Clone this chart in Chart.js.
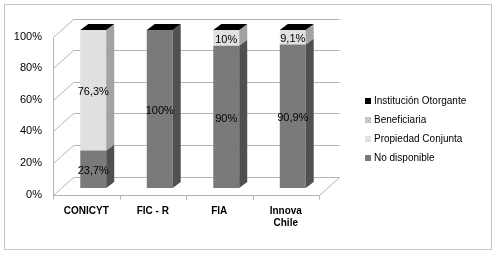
<!DOCTYPE html>
<html><head><meta charset="utf-8">
<script src="https://cdn.jsdelivr.net/npm/chart.js@4.4.1/dist/chart.umd.min.js"></script>
<style>html,body{margin:0;padding:0;background:#fff}#wrap{position:relative;width:500px;height:257px}</style>
</head><body><div id="wrap"><canvas id="c" width="500" height="257"></canvas></div>
<script>
const categories = ['CONICYT', 'FIC - R', 'FIA', ['Innova', 'Chile']];
const seriesNames = ['No disponible', 'Propiedad Conjunta', 'Beneficiaria', 'Institución Otorgante'];
const noDisponible = [23.7, 100, 90, 90.9];
const propiedadConjunta = [76.3, 0, 10, 9.1];
const beneficiaria = [0, 0, 0, 0];
const institucionOtorgante = [0, 0, 0, 0];
const yTicks = [0, 20, 40, 60, 80, 100];

function makePattern(bg, dot) {
  const p = document.createElement('canvas'); p.width = 4; p.height = 4;
  const g = p.getContext('2d');
  g.fillStyle = bg; g.fillRect(0, 0, 4, 4);
  g.fillStyle = dot; g.fillRect(0, 0, 1, 1); g.fillRect(2, 2, 1, 1);
  return g.createPattern(p, 'repeat');
}
const ctx0 = document.getElementById('c').getContext('2d');
const propFront = makePattern('#e2e2e2', '#d3d3d3');
const propSide = makePattern('#a4a4a4', '#979797');
const benFront = makePattern('#cccccc', '#a0a0a0');

const faceColors = [
  { front: '#7a7a7a', side: '#505050', legend: '#7a7a7a' },
  { front: propFront, side: propSide, legend: '#e2e2e2' },
  { front: benFront, side: '#888888', legend: benFront },
  { front: '#000000', side: '#000000', legend: '#000000' }
];
const seriesData = [noDisponible, propiedadConjunta, beneficiaria, institucionOtorgante];

const DX = 8, DY = -6;
const FRONT = { x: -7, y: 6.5 }, BACK = { x: 13, y: -11.5 };
const fmt = v => String(v).replace('.', ',') + '%';

const threeD = {
  id: 'threeD',
  beforeDraw(chart) {
    const c = chart.ctx; c.save();
    c.fillStyle = '#fff'; c.fillRect(0, 0, chart.width, chart.height);
    c.strokeStyle = '#c6c6c6'; c.lineWidth = 1; c.strokeRect(4.5, 4.5, 487, 245);
    c.restore();
  },
  beforeDatasetsDraw(chart) {
    const c = chart.ctx, x = chart.scales.x, y = chart.scales.y;
    const l = x.left, r = x.right;
    c.save(); c.strokeStyle = '#b4b4b4'; c.lineWidth = 1;
    const R = v => Math.round(v) + 0.5;
    yTicks.forEach(v => {
      const py = y.getPixelForValue(v);
      c.beginPath();
      c.moveTo(R(l + FRONT.x), R(py + FRONT.y));
      c.lineTo(R(l + BACK.x), R(py + BACK.y));
      c.lineTo(R(r + BACK.x), R(py + BACK.y));
      c.stroke();
    });
    const y0 = y.getPixelForValue(0), y1 = y.getPixelForValue(100);
    c.beginPath();
    c.moveTo(R(l + FRONT.x), R(y1 + FRONT.y));
    c.lineTo(R(l + FRONT.x), R(y0 + FRONT.y));
    c.lineTo(R(r + FRONT.x), R(y0 + FRONT.y));
    c.lineTo(R(r + BACK.x), R(y0 + BACK.y));
    c.stroke();
    const n = categories.length, w = (r - l) / n;
    for (let i = 0; i <= n; i++) {
      const px = R(l + i * w + FRONT.x);
      c.beginPath(); c.moveTo(px, R(y0 + FRONT.y)); c.lineTo(px, R(y0 + FRONT.y) + 4); c.stroke();
    }
    c.restore();
  },
  afterDatasetsDraw(chart) {
    const c = chart.ctx; c.save();
    const tops = {};
    chart.data.datasets.forEach((ds, di) => {
      const meta = chart.getDatasetMeta(di);
      meta.data.forEach((el, i) => {
        const left = el.x - el.width / 2, right = el.x + el.width / 2;
        const top = Math.min(el.y, el.base), bot = Math.max(el.y, el.base);
        if (bot - top > 0.1) {
          c.fillStyle = faceColors[di].side;
          c.beginPath();
          c.moveTo(right, top); c.lineTo(right + DX, top + DY);
          c.lineTo(right + DX, bot + DY); c.lineTo(right, bot); c.closePath(); c.fill();
        }
        if (!tops[i] || top <= tops[i].top) tops[i] = { top, left, right, di };
      });
    });
    Object.values(tops).forEach(t => {
      c.fillStyle = faceColors[3].front;
      c.beginPath();
      c.moveTo(t.left, t.top); c.lineTo(t.left + DX, t.top + DY);
      c.lineTo(t.right + DX, t.top + DY); c.lineTo(t.right, t.top); c.closePath(); c.fill();
    });
    c.fillStyle = '#000'; c.font = '11px "Liberation Sans", Arial, sans-serif';
    c.textAlign = 'center'; c.textBaseline = 'middle';
    chart.data.datasets.forEach((ds, di) => {
      const meta = chart.getDatasetMeta(di);
      meta.data.forEach((el, i) => {
        const v = ds.data[i];
        if (v > 0) c.fillText(fmt(v), el.x, (el.y + el.base) / 2 + 2);
      });
    });
    c.textAlign = 'left'; c.font = '10px "Liberation Sans", Arial, sans-serif';
    const order = [3, 2, 1, 0];
    order.forEach((di, k) => {
      const yy = 101 + k * 19;
      c.fillStyle = faceColors[di].legend;
      c.fillRect(365, yy - 3, 6, 6);
      c.fillStyle = '#000';
      c.fillText(chart.data.datasets[di].label, 374, yy);
    });
    c.restore();
  }
};

new Chart(ctx0, {
  type: 'bar',
  data: {
    labels: categories,
    datasets: seriesNames.map((name, i) => ({
      label: name,
      data: seriesData[i],
      backgroundColor: faceColors[i].front,
      borderWidth: 0,
      categoryPercentage: 0.39,
      barPercentage: 1
    }))
  },
  options: {
    responsive: false,
    animation: false,
    devicePixelRatio: 1,
    layout: { padding: { left: 0, right: 174, top: 30, bottom: 0 } },
    plugins: { legend: { display: false }, tooltip: { enabled: false } },
    scales: {
      x: {
        stacked: true,
        grid: { display: false, drawTicks: false },
        border: { display: false },
        ticks: {
          color: '#000', padding: 17, labelOffset: -7,
          font: { family: '"Liberation Sans", Arial, sans-serif', size: 10, weight: 'bold' }
        },
        afterFit(s) { s.height = 69; }
      },
      y: {
        stacked: true, min: 0, max: 100,
        grid: { display: false, drawTicks: false },
        border: { display: false },
        ticks: {
          stepSize: 20, color: '#000', padding: 18, labelOffset: 6.5,
          callback: v => v + '%',
          font: { family: '"Liberation Sans", Arial, sans-serif', size: 11 }
        },
        afterFit(s) { s.width = 60; }
      }
    }
  },
  plugins: [threeD]
});
</script>
</body></html>
